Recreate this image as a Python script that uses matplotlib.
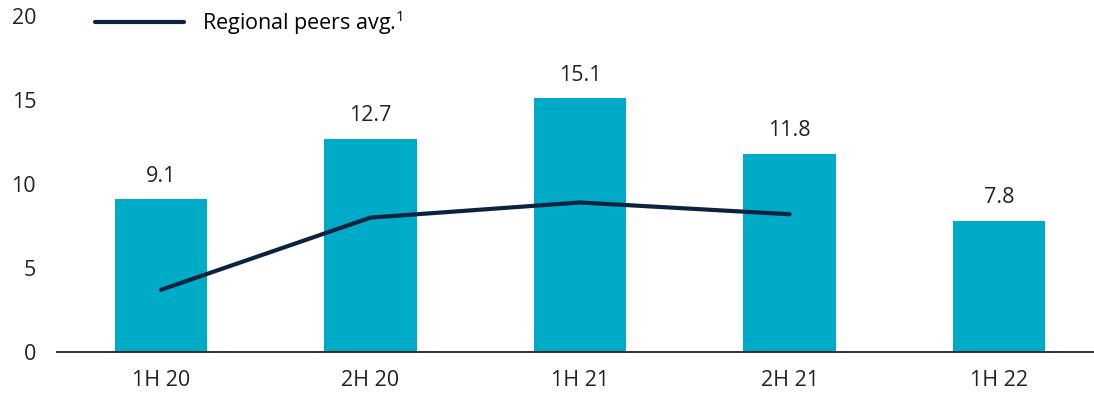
import matplotlib.pyplot as plt

plt.rcParams['font.family'] = ['Open Sans', 'DejaVu Sans']
plt.rcParams['mathtext.fontset'] = 'custom'
plt.rcParams['mathtext.rm'] = 'Open Sans'
plt.rcParams['mathtext.default'] = 'rm'

periods = ['1H 20', '2H 20', '1H 21', '2H 21', '1H 22']
values = [9.1, 12.7, 15.1, 11.8, 7.8]
peers_periods = ['1H 20', '2H 20', '1H 21', '2H 21']
peers_avg = [3.7, 8.0, 8.9, 8.2]

bar_color = '#00abc7'
line_color = '#0b2240'
fs = 15.5

fig = plt.figure(figsize=(10.94, 3.94), dpi=100)
ax = fig.add_axes([57 / 1094, 1 - 352 / 394, 1 - 57 / 1094, 336 / 394])

x = list(range(len(periods)))
bars = ax.bar(x, values, width=0.44, color=bar_color, zorder=2)
for xi, v in zip(x, values):
    ax.annotate(f'{v:.1f}', (xi, v), xytext=(0, 9), textcoords='offset points',
                ha='center', va='bottom', fontsize=fs, color='#222222')

px = [periods.index(p) for p in peers_periods]
ax.plot(px, peers_avg, color=line_color, lw=3, solid_capstyle='round',
        zorder=3, label=r'Regional peers avg.$^{1}$')

ax.set_xlim(-0.496, 4.453)
ax.set_ylim(0, 20)
ax.set_yticks([0, 5, 10, 15, 20])
ax.set_xticks(x)
ax.set_xticklabels(periods)
ax.tick_params(axis='both', length=0, labelsize=fs, colors='#222222')
ax.tick_params(axis='x', pad=13)
ax.tick_params(axis='y', pad=15)

for s in ['top', 'right', 'left']:
    ax.spines[s].set_visible(False)
ax.spines['bottom'].set_linewidth(1.3)
ax.spines['bottom'].set_color('#222222')
ax.spines['bottom'].set_zorder(4)

fig.legend(loc='upper left', bbox_to_anchor=(95 / 1094, 1 - 8 / 394),
           frameon=False, fontsize=fs, handlelength=4.15, handletextpad=0.8,
           borderpad=0, borderaxespad=0)

fig.savefig('out.png', dpi=100)
